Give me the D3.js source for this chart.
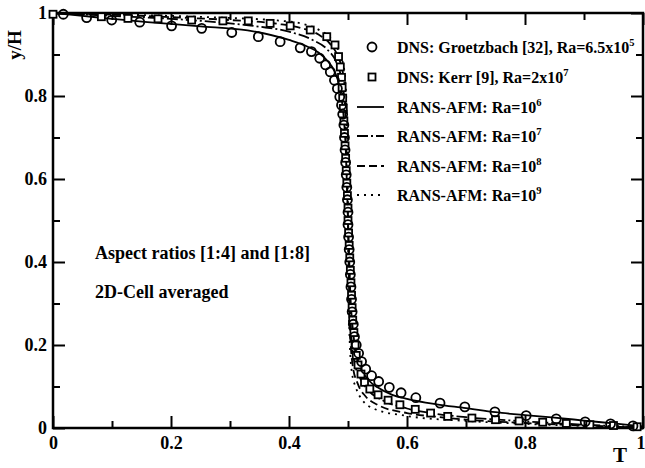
<!DOCTYPE html>
<html>
<head>
<meta charset="utf-8">
<script src="https://cdn.jsdelivr.net/npm/d3@7"></script>
<style>
  body { margin: 0; background: #fff; }
  text { font-family: "Liberation Serif", "Times New Roman", serif; font-weight: bold; fill: #000; }
</style>
</head>
<body>
<script>
// DNS Groetzbach [32], Ra=6.5x10^5  -> [T, y/H]
var groetzbach = [
  [0.0175,0.997],[0.057,0.989],[0.0995,0.983],[0.147,0.978],[0.201,0.969],[0.252,0.963],
  [0.303,0.953],[0.348,0.943],[0.385,0.931],[0.419,0.916],[0.438,0.907],[0.452,0.891],
  [0.462,0.875],[0.47,0.858],[0.477,0.838],[0.482,0.818],[0.486,0.798],[0.489,0.778],
  [0.491,0.756],[0.493,0.73],[0.494,0.70],[0.495,0.67],[0.496,0.64],[0.497,0.61],
  [0.498,0.58],[0.499,0.55],[0.5,0.52],[0.5,0.49],[0.501,0.46],[0.502,0.43],
  [0.503,0.40],[0.504,0.37],[0.505,0.34],[0.506,0.31],[0.507,0.28],[0.509,0.25],
  [0.511,0.22],[0.514,0.20],[0.518,0.18],[0.523,0.16],[0.53,0.142],[0.54,0.126],
  [0.552,0.112],[0.57,0.098],[0.59,0.085],[0.615,0.073],[0.656,0.060],[0.698,0.051],
  [0.749,0.039],[0.802,0.030],[0.853,0.022],[0.902,0.015],[0.945,0.010],[0.983,0.005]
];

// DNS Kerr [9], Ra=2x10^7
var kerr = [
  [0.0,0.997],[0.082,0.991],[0.127,0.987],[0.178,0.986],[0.235,0.983],[0.288,0.981],
  [0.331,0.981],[0.368,0.975],[0.402,0.969],[0.436,0.959],[0.464,0.943],[0.478,0.923],
  [0.484,0.895],[0.487,0.87],[0.489,0.845],[0.49,0.82],[0.491,0.795],[0.492,0.77],
  [0.493,0.74],[0.494,0.71],[0.495,0.68],[0.496,0.65],[0.497,0.62],[0.498,0.59],
  [0.499,0.56],[0.5,0.53],[0.5,0.50],[0.501,0.47],[0.502,0.44],[0.503,0.41],
  [0.504,0.38],[0.505,0.35],[0.506,0.32],[0.507,0.29],[0.508,0.26],[0.51,0.23],
  [0.512,0.20],[0.514,0.175],[0.517,0.152],[0.522,0.13],[0.528,0.11],[0.537,0.094],
  [0.551,0.08],[0.568,0.067],[0.588,0.056],[0.614,0.045],[0.64,0.036],[0.669,0.028],
  [0.71,0.024],[0.75,0.02],[0.79,0.017],[0.83,0.014],[0.87,0.011],[0.91,0.008],
  [0.95,0.006],[0.99,0.003]
];

// RANS-AFM profiles
var ransRa6 = [
  [0,1],[0.05,0.993],[0.1,0.986],[0.16,0.978],[0.25,0.968],[0.33,0.958],[0.4,0.935],
  [0.43,0.92],[0.45,0.905],[0.465,0.885],[0.477,0.86],[0.486,0.82],[0.492,0.76],
  [0.496,0.68],[0.5,0.5],[0.504,0.32],[0.508,0.24],[0.514,0.18],[0.523,0.14],
  [0.535,0.115],[0.55,0.098],[0.575,0.08],[0.6,0.07],[0.65,0.057],[0.7,0.048],
  [0.75,0.038],[0.8,0.031],[0.85,0.025],[0.9,0.018],[0.95,0.011],[1,0.004]
];
var ransRa7 = [
  [0,1],[0.1,0.993],[0.2,0.986],[0.3,0.975],[0.35,0.967],[0.4,0.955],[0.44,0.935],
  [0.465,0.912],[0.48,0.882],[0.489,0.84],[0.495,0.77],[0.5,0.5],[0.505,0.24],
  [0.51,0.165],[0.52,0.122],[0.535,0.09],[0.56,0.066],[0.6,0.047],[0.65,0.034],
  [0.7,0.026],[0.8,0.016],[0.9,0.008],[1,0.002]
];
var ransRa8 = [
  [0,1],[0.1,0.996],[0.2,0.99],[0.3,0.983],[0.38,0.974],[0.42,0.964],[0.45,0.948],
  [0.47,0.925],[0.483,0.895],[0.492,0.85],[0.497,0.75],[0.5,0.5],[0.503,0.25],
  [0.508,0.15],[0.517,0.105],[0.53,0.076],[0.55,0.056],[0.6,0.036],[0.65,0.027],
  [0.7,0.02],[0.8,0.012],[0.9,0.006],[1,0.001]
];
var ransRa9 = [
  [0,1],[0.1,0.997],[0.2,0.993],[0.3,0.988],[0.38,0.982],[0.42,0.975],[0.45,0.96],
  [0.47,0.94],[0.485,0.905],[0.494,0.86],[0.498,0.75],[0.5,0.5],[0.502,0.25],
  [0.506,0.14],[0.514,0.095],[0.525,0.066],[0.545,0.046],[0.6,0.029],[0.7,0.017],
  [0.8,0.01],[0.9,0.005],[1,0.001]
];

var majorTicks = [0, 0.2, 0.4, 0.6, 0.8, 1];
var minorTicks = [0.1, 0.3, 0.5, 0.7, 0.9];

var svgWidth = 645;
var svgHeight = 468;
var margin = { top: 13, right: 2, bottom: 40, left: 53 };
var width = svgWidth - margin.left - margin.right;
var height = svgHeight - margin.top - margin.bottom;

var svg = d3.select("body")
  .append("svg")
  .attr("width", svgWidth)
  .attr("height", svgHeight);

var chartGroup = svg.append("g")
  .attr("transform", `translate(${margin.left}, ${margin.top})`);

var x = d3.scaleLinear().domain([0, 1]).range([0, width]);
var y = d3.scaleLinear().domain([0, 1]).range([height, 0]);

var fmt = function(d) { return d === 0 || d === 1 ? d3.format("d")(d) : d3.format(".1f")(d); };

function styleAxis(g) {
  g.select(".domain").remove();
  g.selectAll("line").attr("stroke", "#000").attr("stroke-width", 2);
}

// bottom axis with labels, inward ticks
var xAxisG = chartGroup.append("g")
  .attr("transform", `translate(0, ${height})`)
  .call(d3.axisBottom(x).tickValues(majorTicks).tickSize(-12).tickPadding(8).tickFormat(fmt))
  .call(styleAxis);
xAxisG.selectAll("text").attr("font-size", 18).attr("font-family", "Liberation Serif").attr("font-weight", "bold");
// last label sits against the page edge
xAxisG.selectAll(".tick").filter(function(d) { return d === 1; }).select("text").attr("text-anchor", "end").attr("dx", 2);

chartGroup.append("g")
  .attr("transform", `translate(0, ${height})`)
  .call(d3.axisBottom(x).tickValues(minorTicks).tickSize(-7).tickFormat(""))
  .call(styleAxis);

// top axis, no labels
chartGroup.append("g")
  .call(d3.axisTop(x).tickValues(majorTicks).tickSize(-12).tickFormat(""))
  .call(styleAxis);
chartGroup.append("g")
  .call(d3.axisTop(x).tickValues(minorTicks).tickSize(-7).tickFormat(""))
  .call(styleAxis);

// left axis with labels
chartGroup.append("g")
  .call(d3.axisLeft(y).tickValues(majorTicks).tickSize(-12).tickPadding(6).tickFormat(fmt))
  .call(styleAxis)
  .selectAll("text").attr("font-size", 18).attr("font-family", "Liberation Serif").attr("font-weight", "bold");
chartGroup.append("g")
  .call(d3.axisLeft(y).tickValues(minorTicks).tickSize(-7).tickFormat(""))
  .call(styleAxis);

// right axis
chartGroup.append("g")
  .attr("transform", `translate(${width}, 0)`)
  .call(d3.axisRight(y).tickValues(majorTicks).tickSize(-12).tickFormat(""))
  .call(styleAxis);
chartGroup.append("g")
  .attr("transform", `translate(${width}, 0)`)
  .call(d3.axisRight(y).tickValues(minorTicks).tickSize(-7).tickFormat(""))
  .call(styleAxis);

// frame
chartGroup.append("rect")
  .attr("width", width).attr("height", height)
  .attr("fill", "none").attr("stroke", "#000").attr("stroke-width", 2.5);

// RANS lines
var line = d3.line()
  .x(function(d) { return x(d[0]); })
  .y(function(d) { return y(d[1]); })
  .curve(d3.curveMonotoneX);

var lineSeries = [
  { data: ransRa6, dash: null },
  { data: ransRa7, dash: "11,3,2,3" },
  { data: ransRa8, dash: "8,4" },
  { data: ransRa9, dash: "2,5" }
];

lineSeries.forEach(function(s) {
  chartGroup.append("path")
    .datum(s.data)
    .attr("d", line)
    .attr("fill", "none")
    .attr("stroke", "#000")
    .attr("stroke-width", 1.8)
    .attr("stroke-dasharray", s.dash);
});

// DNS markers
chartGroup.selectAll(".kerr")
  .data(kerr)
  .enter().append("rect")
  .attr("class", "kerr")
  .attr("x", function(d) { return x(d[0]) - 3.5; })
  .attr("y", function(d) { return y(d[1]) - 3.5; })
  .attr("width", 7).attr("height", 7)
  .attr("fill", "#fff").attr("stroke", "#000").attr("stroke-width", 1.8);

chartGroup.selectAll(".groetz")
  .data(groetzbach)
  .enter().append("circle")
  .attr("class", "groetz")
  .attr("cx", function(d) { return x(d[0]); })
  .attr("cy", function(d) { return y(d[1]); })
  .attr("r", 4.5)
  .attr("fill", "none").attr("stroke", "#000").attr("stroke-width", 1.8);

// axis titles
svg.append("text")
  .attr("transform", "translate(21, 45) rotate(-90)")
  .attr("text-anchor", "middle")
  .attr("font-size", 19)
  .text("y/H");
svg.append("text")
  .attr("x", 620).attr("y", 462)
  .attr("text-anchor", "middle")
  .attr("font-size", 21)
  .text("T");

// legend
var legendRows = [
  { type: "circle", label: "DNS: Groetzbach [32], Ra=6.5x10", sup: "5" },
  { type: "square", label: "DNS: Kerr [9], Ra=2x10", sup: "7" },
  { type: "line", dash: null, label: "RANS-AFM: Ra=10", sup: "6" },
  { type: "line", dash: "11,3,2,3", label: "RANS-AFM: Ra=10", sup: "7" },
  { type: "line", dash: "8,4", label: "RANS-AFM: Ra=10", sup: "8" },
  { type: "line", dash: "2,5", label: "RANS-AFM: Ra=10", sup: "9" }
];
var legendY = [47, 77, 107, 136, 166, 195];

var legend = svg.append("g");
legendRows.forEach(function(r, i) {
  var ly = legendY[i];
  if (r.type === "circle") {
    legend.append("circle").attr("cx", 372).attr("cy", ly).attr("r", 4.5)
      .attr("fill", "none").attr("stroke", "#000").attr("stroke-width", 1.8);
  } else if (r.type === "square") {
    legend.append("rect").attr("x", 368.5).attr("y", ly - 3.5).attr("width", 7).attr("height", 7)
      .attr("fill", "#fff").attr("stroke", "#000").attr("stroke-width", 1.8);
  } else {
    legend.append("line").attr("x1", 357).attr("x2", 384).attr("y1", ly).attr("y2", ly)
      .attr("stroke", "#000").attr("stroke-width", 1.8).attr("stroke-dasharray", r.dash);
  }
  var t = legend.append("text").attr("x", 397).attr("y", ly + 6).attr("font-size", 16);
  t.append("tspan").text(r.label);
  t.append("tspan").attr("dy", -7).attr("font-size", 10.5).text(r.sup);
});

// annotations
svg.append("text").attr("x", 95).attr("y", 259).attr("font-size", 18).text("Aspect ratios [1:4] and [1:8]");
svg.append("text").attr("x", 95).attr("y", 298).attr("font-size", 18).text("2D-Cell averaged");
</script>
</body>
</html>
